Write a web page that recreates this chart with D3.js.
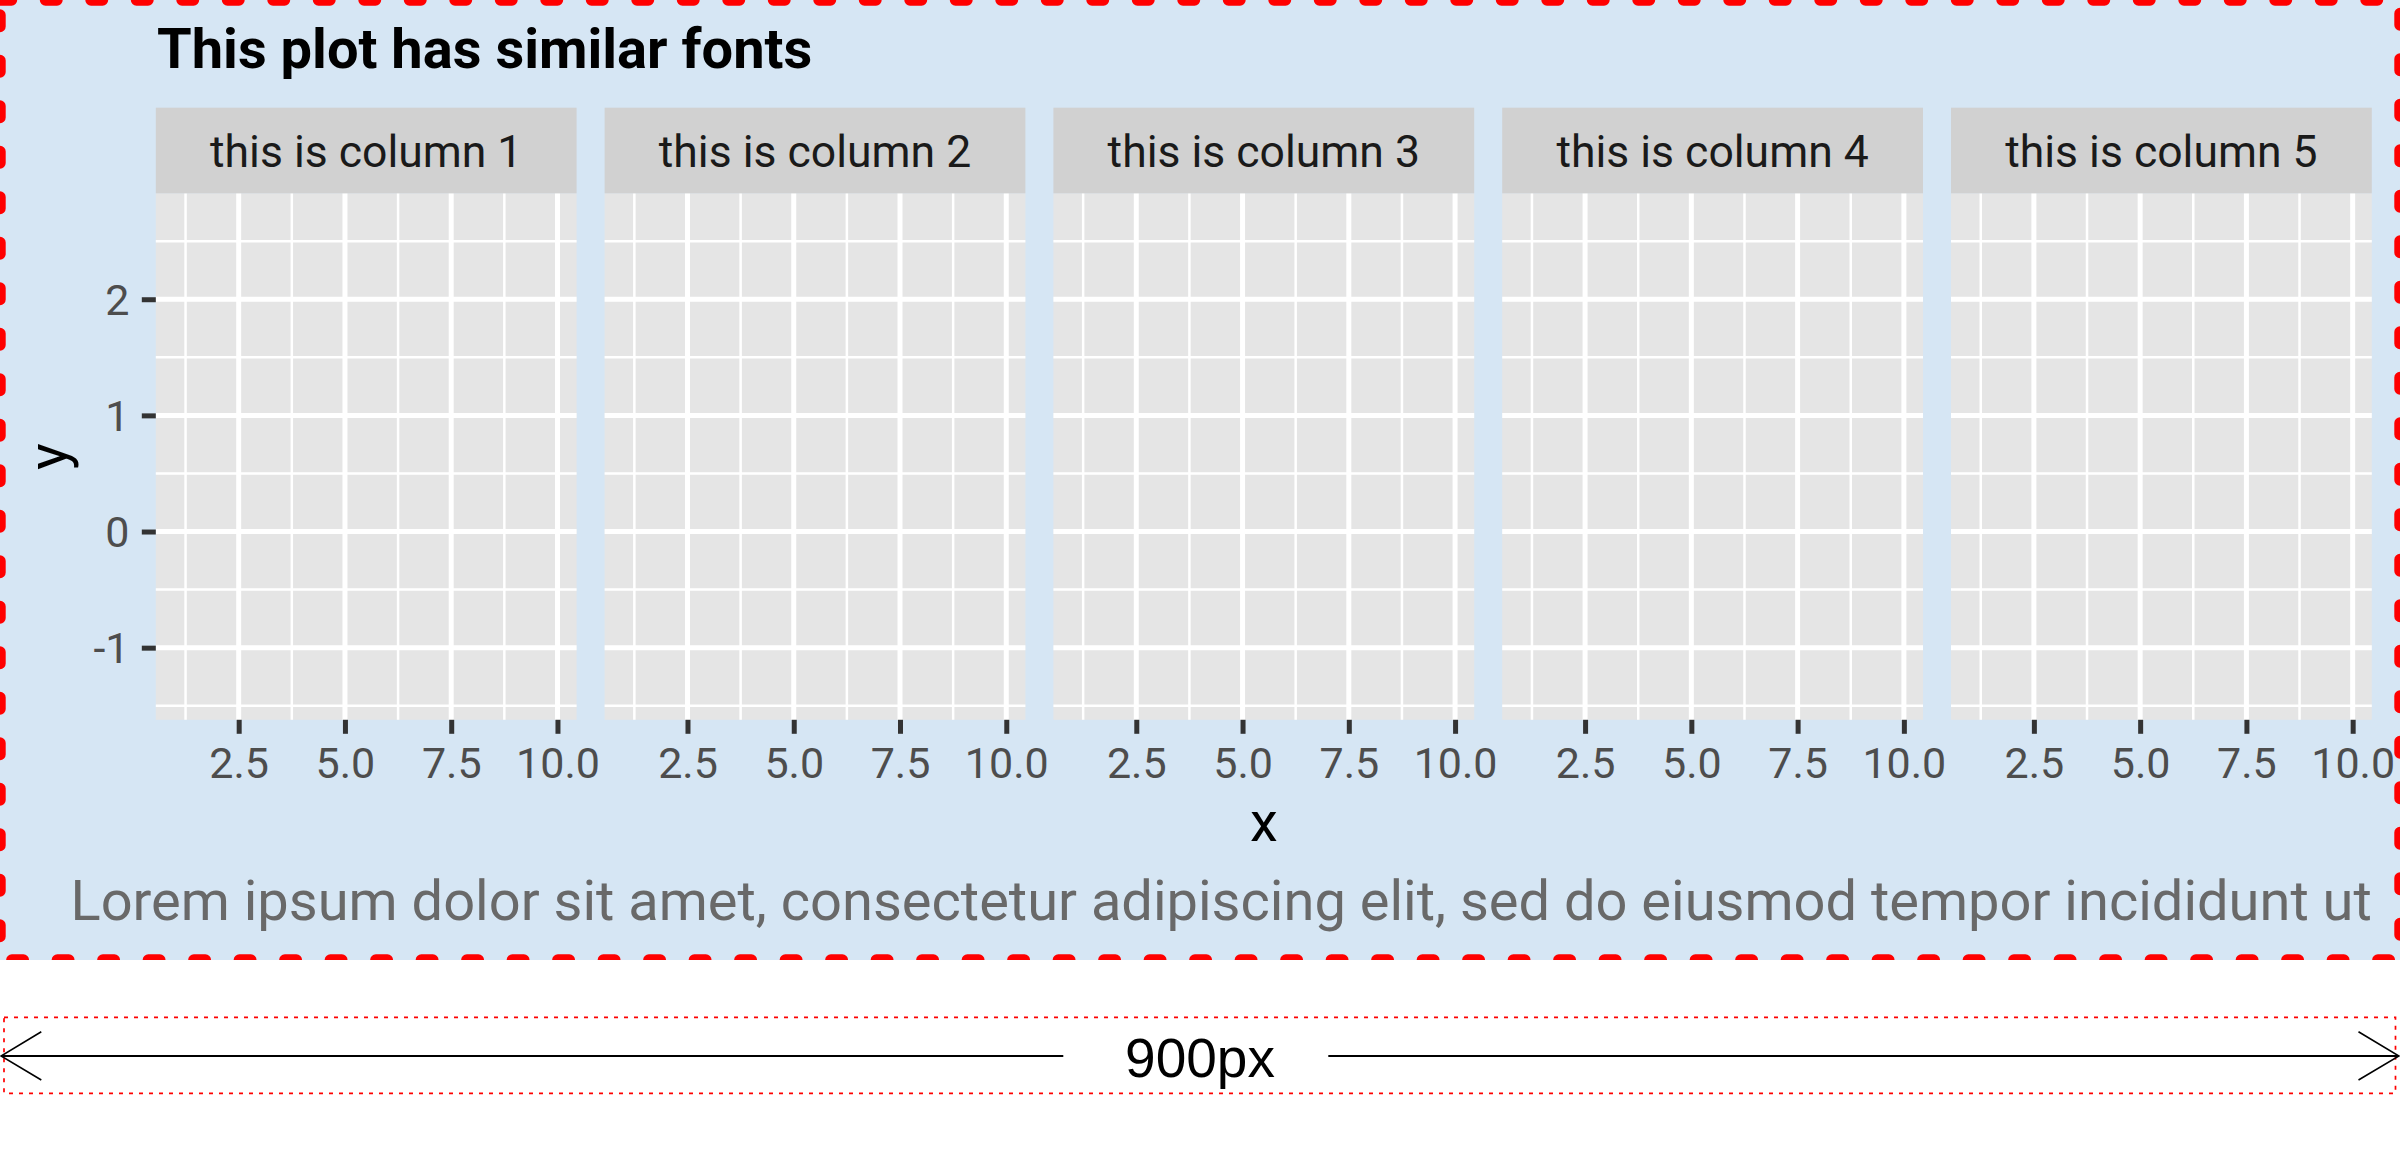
<!DOCTYPE html>
<html><head><meta charset="utf-8">
<script src="https://cdn.jsdelivr.net/npm/d3@7"></script>
<style>html,body{margin:0;padding:0;background:#fff;} svg{display:block;}</style>
</head><body>
<script>
// ---- data ----
const facetLabels = ["this is column 1","this is column 2","this is column 3","this is column 4","this is column 5"];
const xDataExtent = [1, 10];
const yDataExtent = [-1.415, 2.706];
const xMajorTicks = [2.5, 5.0, 7.5, 10.0];
const xTickLabels = ["2.5", "5.0", "7.5", "10.0"];
const xMinorTicks = [1.25, 3.75, 6.25, 8.75];
const yMajorTicks = [-1, 0, 1, 2];
const yTickLabels = ["-1", "0", "1", "2"];
const yMinorTicks = [-1.5, -0.5, 0.5, 1.5, 2.5];
const titleText = "This plot has similar fonts";
const captionText = "Lorem ipsum dolor sit amet, consectetur adipiscing elit, sed do eiusmod tempor incididunt ut";
const xTitle = "x", yTitle = "y";
const widthLabel = "900px";

// ---- layout ----
const W = 2400, H = 1152, PH = 960;
const panelLeft = 155.8, panelRight = 2371.8, stripTop = 107.7, panelTop = 193.3, panelBottom = 719.8;
const FONT = "Roboto, 'Noto Sans', sans-serif";

const svg = d3.select("body").append("svg").attr("width", W).attr("height", H);
svg.append("rect").attr("width", W).attr("height", H).attr("fill", "#ffffff");
svg.append("rect").attr("width", W).attr("height", PH).attr("fill", "#D6E6F4");

function expand(ext, m = 0.05) { const d = (ext[1] - ext[0]) * m; return [ext[0] - d, ext[1] + d]; }

const band = d3.scaleBand().domain(facetLabels).range([panelLeft, panelRight])
  .paddingInner(28 / 448.8).paddingOuter(0);
const bw = band.bandwidth();
const y = d3.scaleLinear().domain(expand(yDataExtent)).range([panelBottom, panelTop]);
const x = d3.scaleLinear().domain(expand(xDataExtent)).range([0, bw]);
const xFmt = d => xTickLabels[xMajorTicks.indexOf(d)];
const yFmt = d => yTickLabels[yMajorTicks.indexOf(d)];

facetLabels.forEach(f => {
  const g = svg.append("g").attr("transform", `translate(${band(f)},0)`);
  g.append("rect").attr("x", 0).attr("y", panelTop).attr("width", bw)
    .attr("height", panelBottom - panelTop).attr("fill", "#E5E5E5");
  // minor grid
  g.selectAll(".yminor").data(yMinorTicks).join("line").attr("class", "yminor")
    .attr("x1", 0).attr("x2", bw).attr("y1", d => y(d)).attr("y2", d => y(d))
    .attr("stroke", "#fff").attr("stroke-width", 2.5);
  g.selectAll(".xminor").data(xMinorTicks).join("line").attr("class", "xminor")
    .attr("x1", d => x(d)).attr("x2", d => x(d)).attr("y1", panelTop).attr("y2", panelBottom)
    .attr("stroke", "#fff").attr("stroke-width", 2.5);
  // major grid
  g.selectAll(".ymajor").data(yMajorTicks).join("line").attr("class", "ymajor")
    .attr("x1", 0).attr("x2", bw).attr("y1", d => y(d)).attr("y2", d => y(d))
    .attr("stroke", "#fff").attr("stroke-width", 5);
  g.selectAll(".xmajor").data(xMajorTicks).join("line").attr("class", "xmajor")
    .attr("x1", d => x(d)).attr("x2", d => x(d)).attr("y1", panelTop).attr("y2", panelBottom)
    .attr("stroke", "#fff").attr("stroke-width", 5);
  // strip
  g.append("rect").attr("x", 0).attr("y", stripTop).attr("width", bw)
    .attr("height", panelTop - stripTop).attr("fill", "#D1D1D1");
  g.append("text").attr("x", bw / 2).attr("y", 166.7).attr("text-anchor", "middle")
    .attr("font-family", FONT).attr("font-size", 44.5).attr("fill", "#1A1A1A").text(f);
  // x axis
  const ax = g.append("g").attr("transform", `translate(0,${panelBottom})`)
    .call(d3.axisBottom(x).tickValues(xMajorTicks).tickFormat(xFmt).tickSize(14).tickPadding(13.8));
  ax.select(".domain").remove();
  ax.selectAll(".tick line").attr("stroke", "#333333").attr("stroke-width", 5);
  ax.selectAll(".tick text").attr("font-family", FONT).attr("font-size", 43).attr("fill", "#4D4D4D");
});

// y axis (left of first panel)
const ay = svg.append("g").attr("transform", `translate(${panelLeft},0)`)
  .call(d3.axisLeft(y).tickValues(yMajorTicks).tickFormat(yFmt).tickSize(14).tickPadding(12.3));
ay.select(".domain").remove();
ay.selectAll(".tick line").attr("stroke", "#333333").attr("stroke-width", 5);
ay.selectAll(".tick text").attr("font-family", FONT).attr("font-size", 43).attr("fill", "#4D4D4D").attr("dy", "0.355em");

// titles
svg.append("text").attr("x", 157).attr("y", 68.3).attr("font-family", FONT).attr("font-weight", "bold")
  .attr("font-size", 56).attr("fill", "#000").text(titleText);
svg.append("text").attr("x", (panelLeft + panelRight) / 2).attr("y", 841).attr("text-anchor", "middle")
  .attr("font-family", FONT).attr("font-size", 56).attr("fill", "#000").text(xTitle);
svg.append("text").attr("transform", `translate(66.5,${(panelTop + panelBottom) / 2}) rotate(-90)`)
  .attr("text-anchor", "middle").attr("font-family", FONT).attr("font-size", 56).attr("fill", "#000").text(yTitle);
svg.append("text").attr("x", panelRight).attr("y", 920).attr("text-anchor", "end")
  .attr("font-family", FONT).attr("font-size", 56).attr("fill", "#696969").text(captionText);

// dashed plot border
const border = [
  {x1: 0, y1: 0, x2: W, y2: 0, off: 0},
  {x1: W, y1: 0, x2: W, y2: PH, off: 32.05},
  {x1: 0, y1: PH, x2: W, y2: PH, off: 33.65},
  {x1: 0, y1: 0, x2: 0, y2: PH, off: 30.45}
];
const clip = svg.append("clipPath").attr("id", "pclip");
clip.append("rect").attr("width", W).attr("height", PH);
svg.append("g").attr("clip-path", "url(#pclip)").selectAll("line").data(border).join("line")
  .attr("x1", d => d.x1).attr("y1", d => d.y1).attr("x2", d => d.x2).attr("y2", d => d.y2)
  .attr("stroke", "#FF0000").attr("stroke-width", 11.4).attr("stroke-linecap", "round")
  .attr("stroke-dasharray", "11.5 34").attr("stroke-dashoffset", d => d.off);

// width annotation
const ann = svg.append("g");
ann.append("rect").attr("x", 4).attr("y", 1017.3).attr("width", 2391.5).attr("height", 76)
  .attr("fill", "none").attr("stroke", "#FF0000").attr("stroke-width", 1.7).attr("stroke-dasharray", "4 6");
ann.append("line").attr("x1", 1).attr("x2", 1063.3).attr("y1", 1056).attr("y2", 1056)
  .attr("stroke", "#000").attr("stroke-width", 1.8);
ann.append("line").attr("x1", 1328.3).attr("x2", 2399).attr("y1", 1056).attr("y2", 1056)
  .attr("stroke", "#000").attr("stroke-width", 1.8);
ann.append("polyline").attr("points", "41.3,1031.7 1,1056 41.3,1080").attr("fill", "none")
  .attr("stroke", "#000").attr("stroke-width", 1.6);
ann.append("polyline").attr("points", "2358.5,1031.7 2399,1056 2358.5,1080").attr("fill", "none")
  .attr("stroke", "#000").attr("stroke-width", 1.6);
ann.append("text").attr("x", 1200).attr("y", 1076.7).attr("text-anchor", "middle")
  .attr("font-family", "'Liberation Sans', Arial, sans-serif").attr("font-size", 55).attr("fill", "#000").text(widthLabel);
</script>
</body></html>
